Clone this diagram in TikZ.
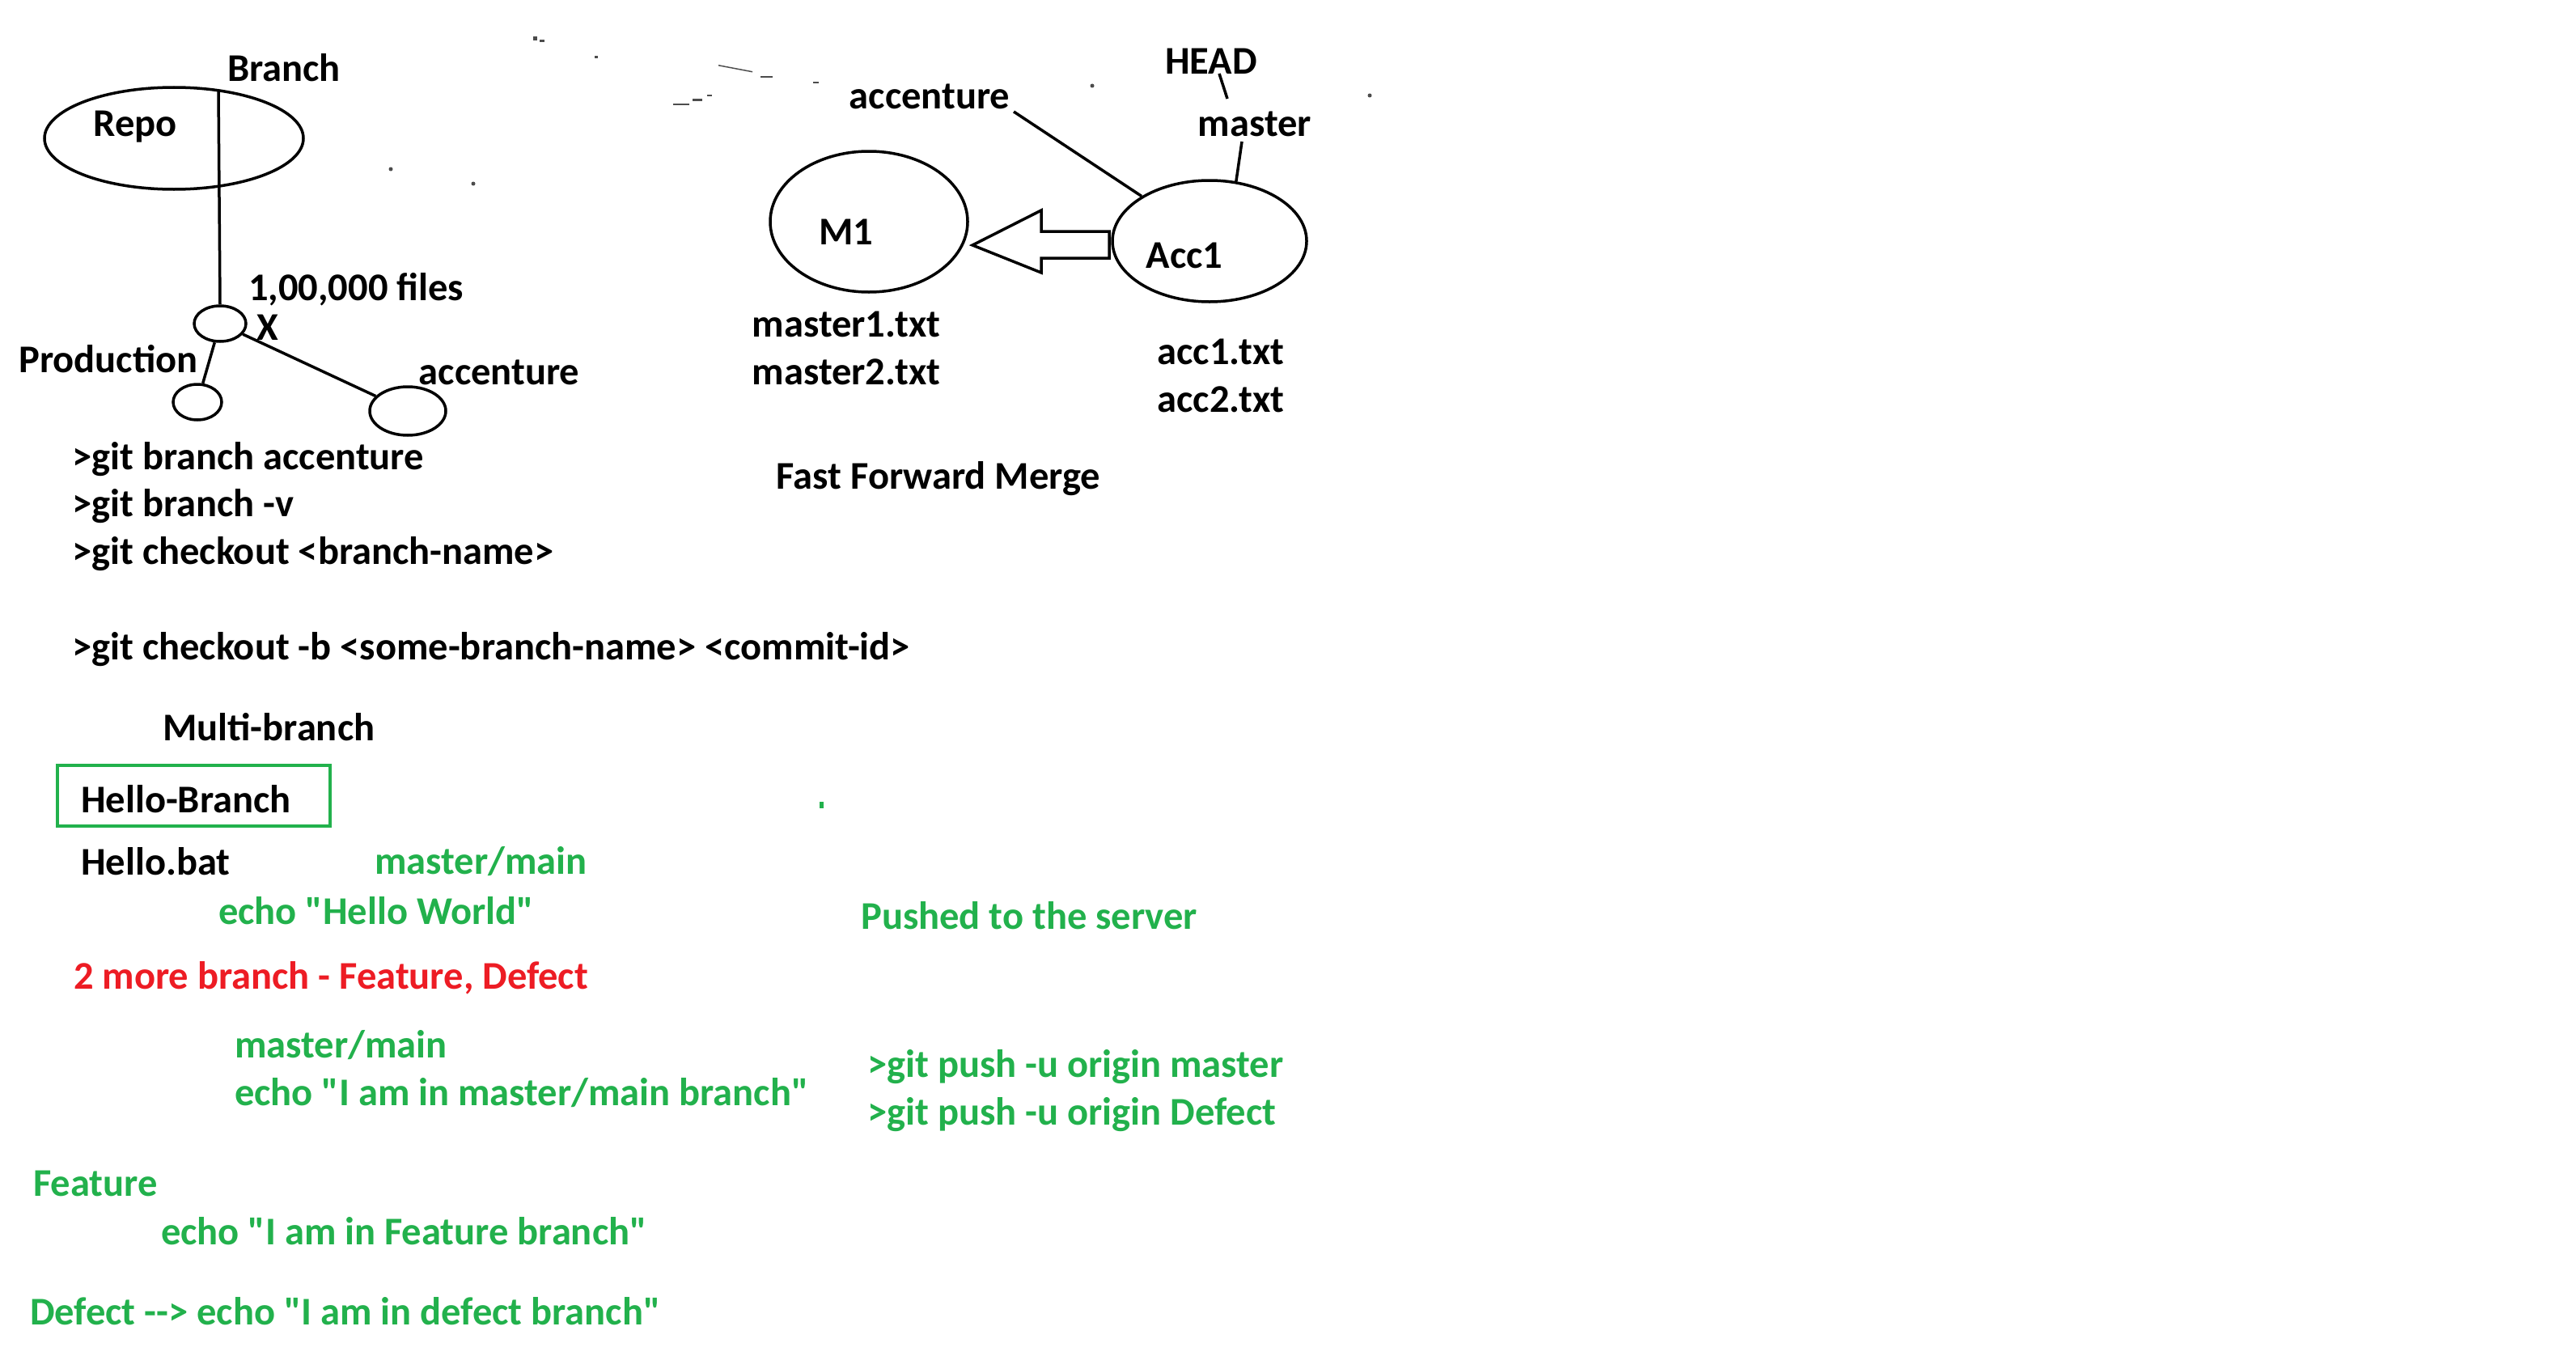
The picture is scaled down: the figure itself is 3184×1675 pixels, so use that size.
\documentclass[tikz,border=0pt]{standalone}
\usepackage{fontspec}
\setmainfont{Carlito}[Ligatures=TeXOff]
\usetikzlibrary{shapes.geometric}
\definecolor{pgreen}{RGB}{34,177,76}
\definecolor{pred}{RGB}{237,28,36}
\tikzset{
  txt/.style={inner sep=0pt, yshift=-3pt, font=\fontsize{48.5}{56}\selectfont\bfseries},
  lt/.style={txt, anchor=west},
  gt/.style={lt, text=pgreen},
  ell/.style={ellipse, draw, line width=3.5pt, inner sep=0pt},
  wire/.style={line width=3.5pt},
  speck/.style={fill=black!70, draw=none}
}
\begin{document}
\begin{tikzpicture}[x=1pt,y=-1pt]
\useasboundingbox (0,0) rectangle (3184,1675);
\fill[white] (0,0) rectangle (3184,1675);
% left tree
\node[ell, minimum width=320pt, minimum height=126pt] (repo) at (215,171) {};
\node[txt] (repot) at (167,154) {Repo};
\node[txt] (brt) at (351,81) {Branch};
\node[ell, minimum width=64pt, minimum height=44pt] (n0) at (272,400) {};
\node[ell, minimum width=60pt, minimum height=44pt] (prod) at (244,497) {};
\node[ell, minimum width=94pt, minimum height=60pt] (accc) at (504,508) {};
\coordinate (btop) at (270,112);
\draw[wire] (btop) -- (n0.north);
\draw[wire] (n0) -- (prod);
\draw[wire] (n0) -- (accc);
\node[lt] (files) at (307,355) {1,00,000 files};
\node[txt] (xmark) at (331,402) {X};
\node[txt] (prodt) at (134,441) {Production};
\node[txt] (acct) at (617,457) {accenture};
% commands
\node[lt] (c1) at (89,565) {>git branch accenture};
\node[lt] (c2) at (89,623) {>git branch -v};
\node[lt] (c3) at (89,682) {>git checkout <branch-name>};
\node[lt] (c4) at (89,800) {>git checkout -b <some-branch-name> <commit-id>};
\node[lt] (mb) at (201,896) {Multi-branch};
\draw[draw=pgreen, line width=4pt] (71,946) rectangle (408,1021);
\node[lt] (hb) at (100,985) {Hello-Branch};
\node[lt] (hbat) at (100,1062) {Hello.bat};
\node[gt] (mm1) at (463,1062) {master/main};
\node[gt] (ehw) at (270,1123) {echo "Hello World"};
\node[gt] (pts) at (1064,1129) {Pushed to the server};
\node[lt, text=pred] (more) at (91,1206) {2 more branch - Feature, Defect};
\node[gt] (mm2) at (290,1289) {master/main};
\node[gt] (emm) at (290,1348) {echo "I am in master/main branch"};
\node[gt] (gp1) at (1072,1316) {>git push -u origin master};
\node[gt] (gp2) at (1072,1375) {>git push -u origin Defect};
\node[gt] (feat) at (41,1460) {Feature};
\node[gt] (ef) at (199,1519) {echo "I am in Feature branch"};
\node[gt] (df) at (37,1618) {Defect -{}-> echo "I am in defect branch"};
\fill[pgreen] (1013,991) rectangle (1018,999);
% right part
\node[ell, minimum width=244pt, minimum height=174pt] (m1) at (1074,274) {};
\node[txt] (m1t) at (1046,284) {M1};
\node[ell, minimum width=240pt, minimum height=150pt] (acc1) at (1495,298) {};
\node[txt] (acc1t) at (1464,313) {Acc1};
\draw[wire, line join=miter] (1371,286) -- (1287,286) -- (1287,260) -- (1202,303) -- (1287,337) -- (1287,319) -- (1371,319) -- cycle;
\node[txt] (acclab) at (1149,116) {accenture};
\coordinate (acclw) at (1253,138);
\draw[wire] (acclw) -- (acc1);
\node[txt] (head) at (1497,73) {HEAD};
\node[txt] (mast) at (1551,150) {master};
\coordinate (headl) at (1507,91);
\coordinate (mastu) at (1517,122);
\draw[wire] (headl) -- (mastu);
\coordinate (mastd) at (1535,175);
\draw[wire] (mastd) -- (acc1.66);
\node[txt] (mt1) at (1046,398) {master1.txt};
\node[txt] (mt2) at (1046,457) {master2.txt};
\node[txt] (at1) at (1509,432) {acc1.txt};
\node[txt] (at2) at (1509,491) {acc2.txt};
\node[txt] (ffm) at (1160,589) {Fast Forward Merge};
% stray specks
\fill[speck] (483,209) circle (2.5pt);
\fill[speck] (585,227) circle (2.5pt);
\fill[speck] (1350,106) circle (2.5pt);
\fill[speck] (1693,118) circle (2.5pt);
\fill[speck] (659,45) rectangle (664,50);
\fill[speck] (667,49) rectangle (673,52);
\fill[speck] (735,69) rectangle (739,72);
\fill[speck] (888,80) -- (930,88) -- (930,89.5) -- (888,81.5) -- cycle;
\fill[speck] (940,94) rectangle (955,96);
\fill[speck] (1005,101) rectangle (1012,103);
\fill[speck] (832,128) rectangle (852,130);
\fill[speck] (856,122) rectangle (868,125);
\fill[speck] (874,117) rectangle (880,119);
\end{tikzpicture}
\end{document}
